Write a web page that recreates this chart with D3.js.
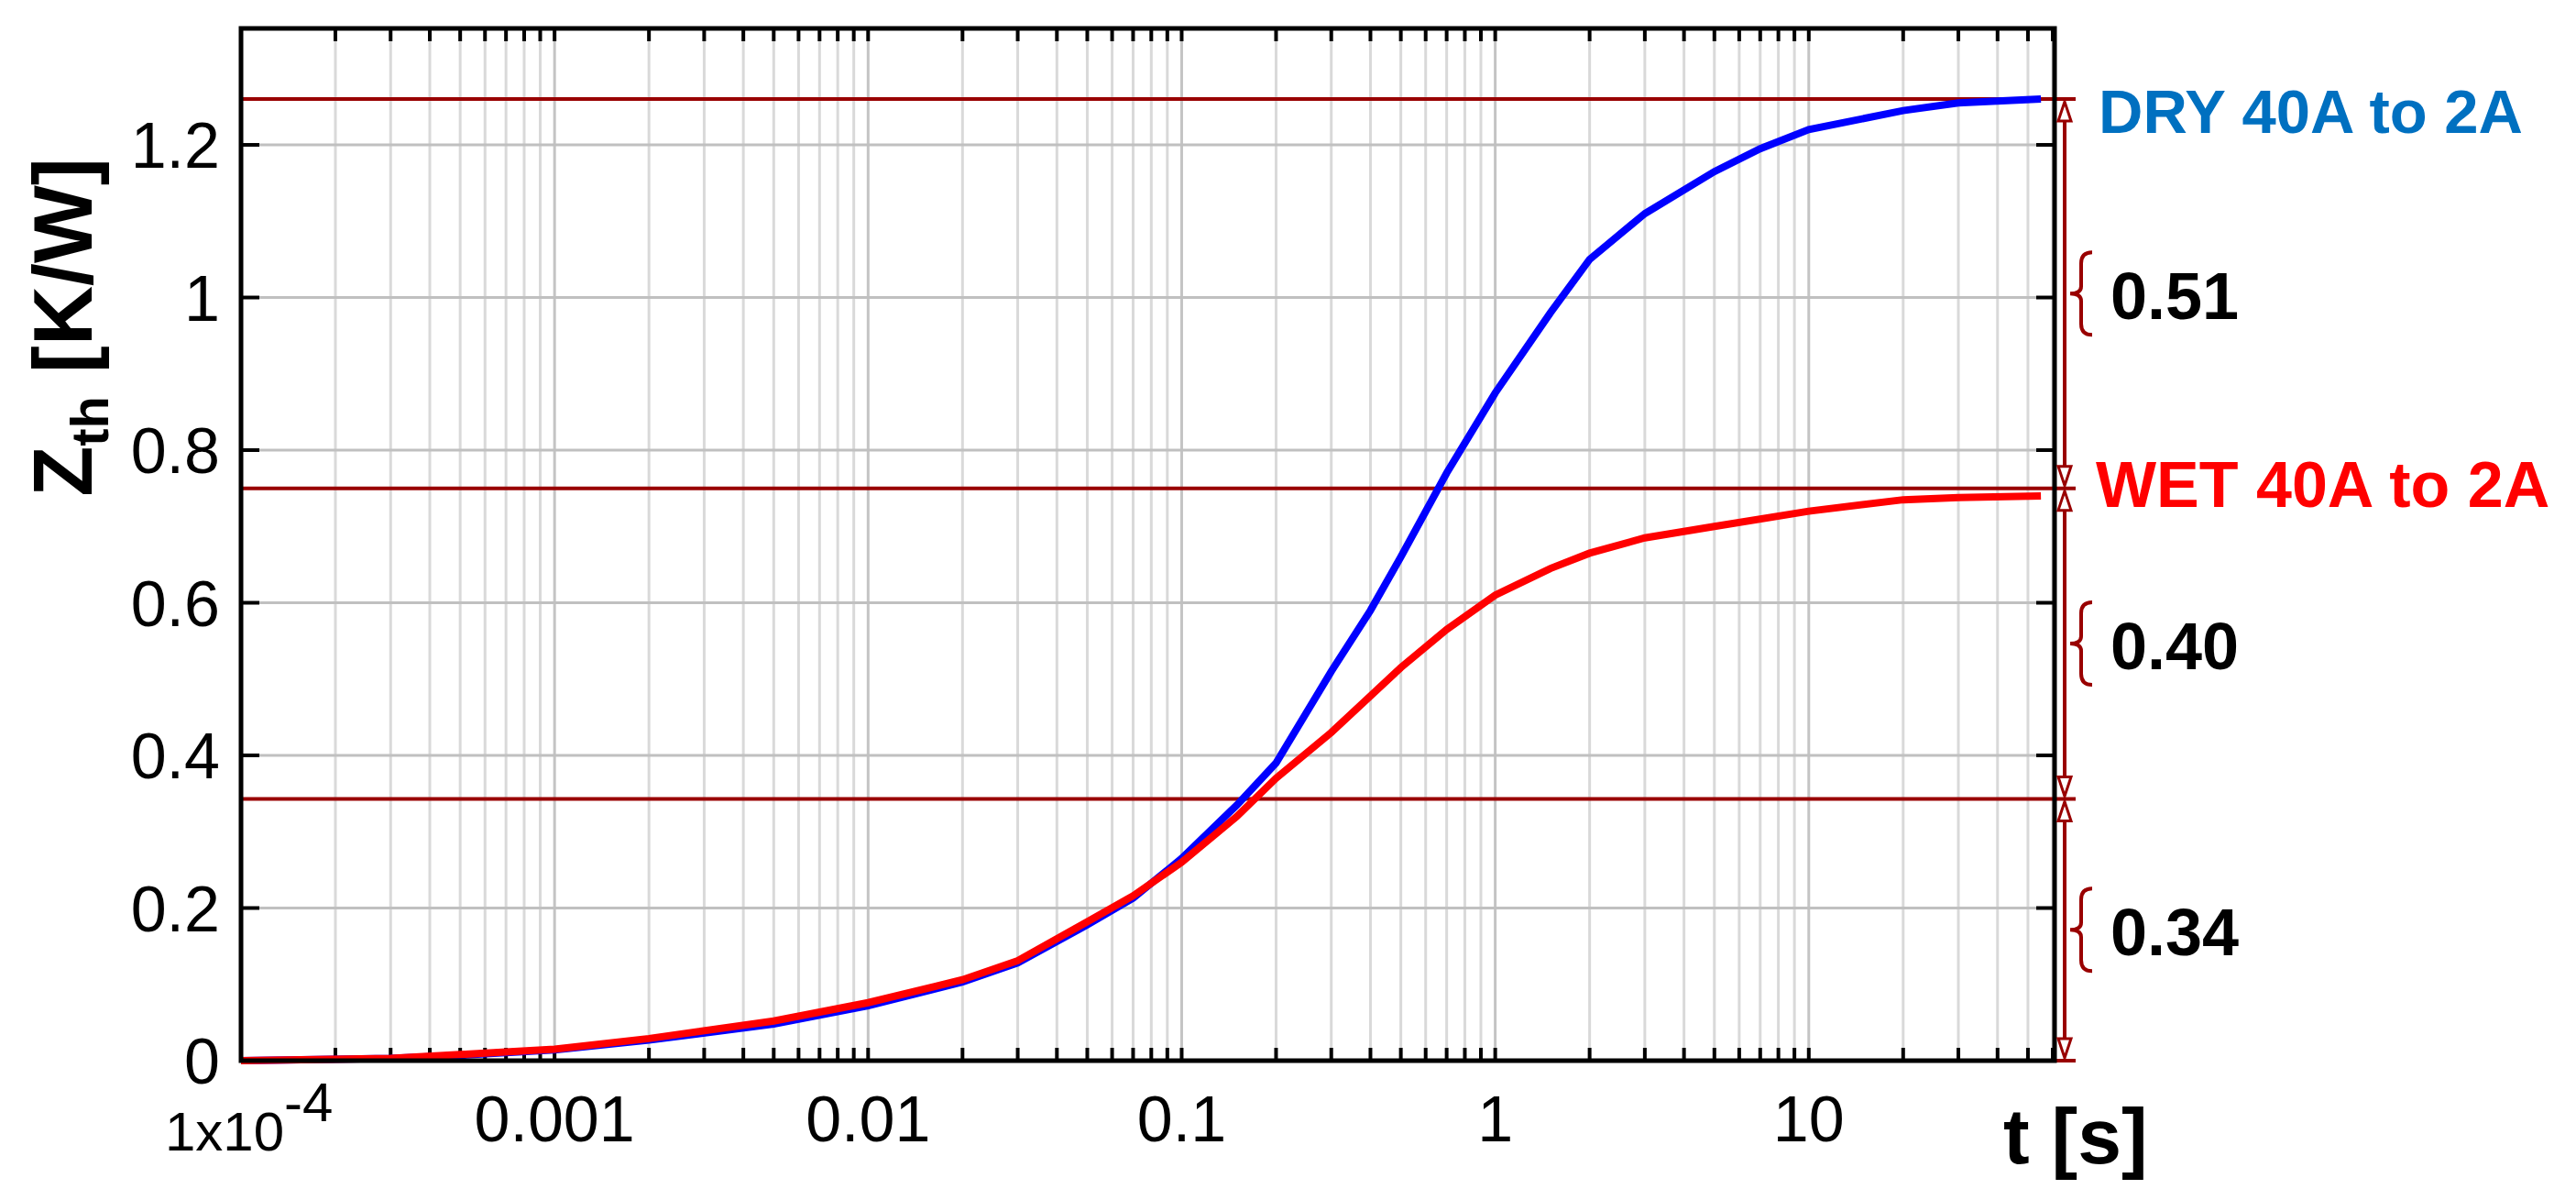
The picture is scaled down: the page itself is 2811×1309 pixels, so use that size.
<!DOCTYPE html>
<html><head><meta charset="utf-8">
<script src="https://cdn.jsdelivr.net/npm/d3@7"></script>
<style>body{margin:0;background:#fff}svg{display:block}</style>
</head><body>
<script>
// Data
const tDry = [1e-4,3e-4,5e-4,1e-3,2e-3,5e-3,0.01,0.02,0.03,0.05,0.07,0.1,0.15,0.2,0.3,0.4,0.5,0.7,1,1.5,2,3,5,7,10,20,30,55];
const zDry = [0,0.003,0.007,0.014,0.027,0.048,0.072,0.103,0.128,0.178,0.213,0.265,0.335,0.39,0.51,0.59,0.66,0.77,0.875,0.98,1.05,1.11,1.165,1.195,1.22,1.245,1.255,1.26];
const tWet = [1e-4,3e-4,5e-4,1e-3,2e-3,5e-3,0.01,0.02,0.03,0.05,0.07,0.1,0.15,0.2,0.3,0.5,0.7,1,1.5,2,3,5,10,20,30,55];
const zWet = [0,0.003,0.008,0.015,0.029,0.052,0.076,0.106,0.131,0.182,0.216,0.26,0.32,0.37,0.43,0.515,0.565,0.61,0.645,0.665,0.685,0.70,0.72,0.735,0.738,0.74];
const xTickVals = [0.001,0.01,0.1,1,10];
const xTickLabels = ["0.001","0.01","0.1","1","10"];
const yTickVals = [0,0.2,0.4,0.6,0.8,1,1.2];
const yTickLabels = ["0","0.2","0.4","0.6","0.8","1","1.2"];
const levels = [1.26,0.75,0.343,0];
const diffLabels = ["0.51","0.40","0.34"];
const seriesLabels = ["DRY 40A to 2A","WET 40A to 2A"];
const seriesLabelColors = ["#0070C0","#FF0000"];

const W=2811,H=1309;
const L=263,R=2242,T=31,B=1157;
const svg=d3.select("body").append("svg").attr("width",W).attr("height",H);
const x=d3.scaleLog().domain([1e-4,60.8]).range([L,R]);
const y=d3.scaleLinear().domain([0,1.3526]).range([B,T]);
const dark="#990000";

const gv=[];
for(let e=-4;e<=1;e++)for(let m=1;m<=9;m++){const v=m*Math.pow(10,e);if(v>1e-4&&v<60.8)gv.push({v,major:m===1});}
svg.append("g").selectAll("line").data(gv).join("line")
 .attr("x1",d=>x(d.v)).attr("x2",d=>x(d.v)).attr("y1",T).attr("y2",B)
 .attr("stroke",d=>d.major?"#c4c4c4":"#d9d9d9").attr("stroke-width",3);
svg.append("g").selectAll("line").data(yTickVals.slice(1)).join("line")
 .attr("x1",L).attr("x2",R).attr("y1",d=>y(d)).attr("y2",d=>y(d))
 .attr("stroke","#c0c0c0").attr("stroke-width",3);
const tk=svg.append("g").attr("stroke","#000").attr("stroke-width",4);
gv.forEach(d=>{tk.append("line").attr("x1",x(d.v)).attr("x2",x(d.v)).attr("y1",B).attr("y2",B-14);
 tk.append("line").attr("x1",x(d.v)).attr("x2",x(d.v)).attr("y1",T).attr("y2",T+14);});
yTickVals.forEach(v=>{tk.append("line").attr("x1",L).attr("x2",L+20).attr("y1",y(v)).attr("y2",y(v));
 tk.append("line").attr("x1",R).attr("x2",R-20).attr("y1",y(v)).attr("y2",y(v));});

svg.append("g").selectAll("line").data(levels).join("line")
 .attr("x1",L).attr("x2",2265).attr("y1",d=>y(d)).attr("y2",d=>y(d))
 .attr("stroke",dark).attr("stroke-width",4);

const line=d3.line().x(d=>x(d[0])).y(d=>y(d[1]));
svg.append("path").datum(tDry.map((t,i)=>[t,zDry[i]])).attr("d",line)
 .attr("fill","none").attr("stroke","#0000FF").attr("stroke-width",8);
svg.append("path").datum(tWet.map((t,i)=>[t,zWet[i]])).attr("d",line)
 .attr("fill","none").attr("stroke","#FF0000").attr("stroke-width",8);

svg.append("rect").attr("x",L).attr("y",T).attr("width",R-L).attr("height",B-T)
 .attr("fill","none").attr("stroke","#000").attr("stroke-width",5);

const tf="'Liberation Sans',Arial,sans-serif";
svg.append("g").selectAll("text").data(xTickVals).join("text")
 .attr("x",d=>x(d)).attr("y",1245).attr("text-anchor","middle")
 .attr("font-family",tf).attr("font-size",70).text((d,i)=>xTickLabels[i]);
const t4=svg.append("text").attr("x",180).attr("y",1255).attr("font-family",tf).attr("font-size",60);
t4.append("tspan").text("1x10");
t4.append("tspan").attr("dy",-32).attr("font-size",60).text("-4");
svg.append("g").selectAll("text").data(yTickVals).join("text")
 .attr("x",240).attr("y",d=>y(d)+25).attr("text-anchor","end")
 .attr("font-family",tf).attr("font-size",70).text((d,i)=>yTickLabels[i]);

const yl=svg.append("text").attr("transform","translate(100,357) rotate(-90)")
 .attr("text-anchor","middle").attr("font-family",tf).attr("font-weight","bold").attr("font-size",90);
yl.append("tspan").text("Z");
yl.append("tspan").attr("font-size",58).attr("dy",18).text("th");
yl.append("tspan").attr("dy",-18).text(" [K/W]");
svg.append("text").attr("x",2186).attr("y",1269).attr("font-family",tf).attr("font-weight","bold")
 .attr("font-size",86).text("t [s]");

const ax=2253;
const ag=svg.append("g");
for(let i=0;i<levels.length-1;i++){
 const y1=y(levels[i]),y2=y(levels[i+1]);
 ag.append("line").attr("x1",ax).attr("x2",ax).attr("y1",y1+4).attr("y2",y2-4).attr("stroke",dark).attr("stroke-width",4);
 ag.append("path").attr("d",`M${ax},${y1+3} L${ax-7},${y1+24} L${ax+7},${y1+24} Z`).attr("fill","#fff").attr("stroke",dark).attr("stroke-width",3);
 ag.append("path").attr("d",`M${ax},${y2-3} L${ax-7},${y2-24} L${ax+7},${y2-24} Z`).attr("fill","#fff").attr("stroke",dark).attr("stroke-width",3);
 const mid=(y1+y2)/2, bx=2271;
 ag.append("path").attr("d",`M${bx+12},${mid-45} Q${bx},${mid-45} ${bx},${mid-33} L${bx},${mid-8} Q${bx},${mid} ${bx-12},${mid} Q${bx},${mid} ${bx},${mid+8} L${bx},${mid+33} Q${bx},${mid+45} ${bx+12},${mid+45}`)
  .attr("fill","none").attr("stroke",dark).attr("stroke-width",4);
 svg.append("text").attr("x",2303).attr("y",mid+28).attr("font-family",tf).attr("font-weight","bold")
  .attr("font-size",72).attr("fill","#000").text(diffLabels[i]);
}
svg.append("text").attr("x",2290).attr("y",145).attr("font-family",tf).attr("font-weight","bold")
 .attr("font-size",67).attr("fill",seriesLabelColors[0]).text(seriesLabels[0]);
svg.append("text").attr("x",2287).attr("y",553).attr("font-family",tf).attr("font-weight","bold")
 .attr("font-size",70).attr("fill",seriesLabelColors[1]).text(seriesLabels[1]);
</script>
</body></html>
